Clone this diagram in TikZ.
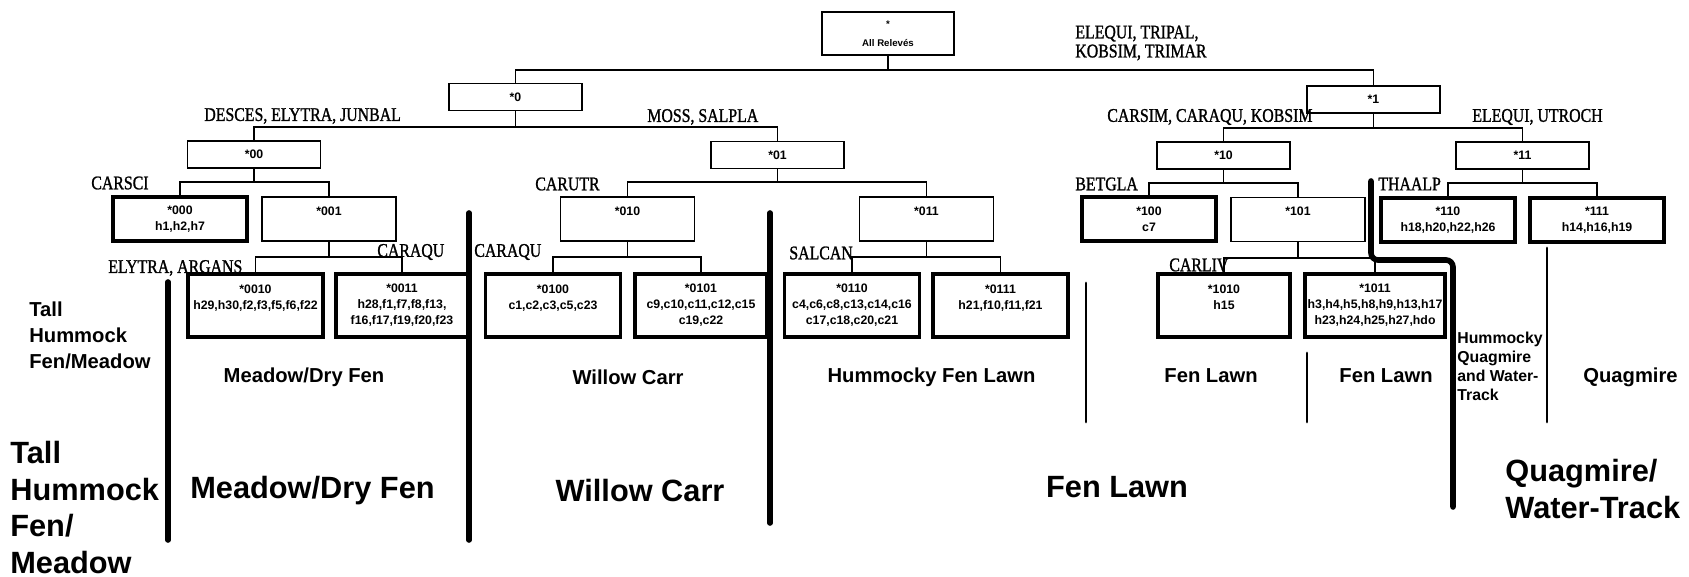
\documentclass[tikz,border=0pt]{standalone}
\usepackage{fontspec}
\setmainfont{Liberation Serif}
\setsansfont{Liberation Sans}
\newfontfamily\sppfont[FakeStretch=0.82, FakeBold=1.2]{Liberation Serif}

\begin{document}
\begin{tikzpicture}[
  x=0.02cm, y=-0.02cm,
  grp/.style={draw, line width=0.8pt, inner sep=0pt, align=center,
    font=\sffamily\bfseries\fontsize{7}{9.1}\selectfont},
  leaf/.style={grp, line width=1.8pt},
  lvtwo/.style={minimum width=2.66cm, minimum height=0.54cm},
  lvthree/.style={minimum width=2.68cm, minimum height=0.88cm},
  lvfour/.style={minimum width=2.7cm, minimum height=1.26cm},
  spp/.style={anchor=west, inner sep=0pt, font=\sppfont\fontsize{11}{10.8}\selectfont},
  zone/.style={inner sep=0pt, font=\sffamily\bfseries\fontsize{11.5}{15}\selectfont},
  bigzone/.style={inner sep=0pt, font=\sffamily\bfseries\fontsize{17.5}{20.7}\selectfont},
  conn/.style={line width=0.7pt},
  sep/.style={line width=3.2pt, line cap=round},
  thinsep/.style={line width=1.6pt, line cap=round}
]
\useasboundingbox (0,0) rectangle (1689,577);

% =======================
% Tree: division boxes
% =======================
\node[grp, minimum width=2.64cm, minimum height=0.86cm,
  font=\sffamily\bfseries\fontsize{5.5}{10.8}\selectfont] (root) at (888,33.5) {*\\All Relevés};

\node[grp, lvtwo] (n0) at (515.5,97) {*0};
\node[grp, lvtwo] (n1) at (1373.5,99.5) {*1};

\node[grp, lvtwo] (n00) at (254,154.5) {*00};
\node[grp, lvtwo] (n01) at (777.5,155) {*01};
\node[grp, lvtwo] (n10) at (1223.5,155.5) {*10};
\node[grp, lvtwo] (n11) at (1522.5,155.5) {*11};

\node[leaf, lvthree] (n000) at (180,219) {*000\\h1,h2,h7};
\node[grp, lvthree] (n001) at (329,219) {*001\\\mbox{}};
\node[grp, lvthree] (n010) at (627.5,219) {*010\\\mbox{}};
\node[grp, lvthree] (n011) at (926.5,219) {*011\\\mbox{}};
\node[leaf, lvthree] (n100) at (1149,219) {*100\\c7};
\node[grp, lvthree] (n101) at (1298,219.5) {*101\\\mbox{}};
\node[leaf, lvthree] (n110) at (1448,220) {*110\\h18,h20,h22,h26};
\node[leaf, lvthree] (n111) at (1597,220) {*111\\h14,h16,h19};

\node[leaf, lvfour] (n0010) at (255.5,305.5) {*0010\\h29,h30,f2,f3,f5,f6,f22\\\mbox{}};
\node[leaf, lvfour, minimum width=2.64cm] (n0011) at (402,305.5) {*0011\\h28,f1,f7,f8,f13,\\f16,f17,f19,f20,f23};
\node[leaf, lvfour] (n0100) at (553,305.5) {*0100\\c1,c2,c3,c5,c23\\\mbox{}};
\node[leaf, lvfour, minimum width=2.64cm] (n0101) at (701,305.5) {*0101\\c9,c10,c11,c12,c15\\c19,c22};
\node[leaf, lvfour] (n0110) at (852,305.5) {*0110\\c4,c6,c8,c13,c14,c16\\c17,c18,c20,c21};
\node[leaf, lvfour] (n0111) at (1000.5,305.5) {*0111\\h21,f10,f11,f21\\\mbox{}};
\node[leaf, lvfour, minimum width=2.64cm] (n1010) at (1224,305.5) {*1010\\h15\\\mbox{}};
\node[leaf, lvfour, minimum width=2.8cm] (n1011) at (1375,305.5) {*1011\\h3,h4,h5,h8,h9,h13,h17\\h23,h24,h25,h27,hdo};

% parent -> child, bar at given height
\foreach \p/\c/\b in {root/n0/70, root/n1/70,
    n0/n00/127, n0/n01/127, n1/n10/128, n1/n11/128,
    n00/n000/182, n00/n001/182, n01/n010/182, n01/n011/182,
    n10/n100/183, n10/n101/183, n11/n110/183, n11/n111/183,
    n001/n0010/257, n001/n0011/257, n010/n0100/257, n010/n0101/257,
    n011/n0110/257, n011/n0111/257, n101/n1010/258, n101/n1011/258}{
  \draw[conn] (\p.south) -- (\p.south |- 0,\b) -| (\c.north);
}

% =======================
% Indicator species
% =======================
\node[spp, align=left] (sRoot) at (1075,43) {ELEQUI, TRIPAL,\\KOBSIM, TRIMAR};
\node[spp] (s00) at (204,116) {DESCES, ELYTRA, JUNBAL};
\node[spp] (s01) at (647,117) {MOSS, SALPLA};
\node[spp] (s10) at (1107,117) {CARSIM, CARAQU, KOBSIM};
\node[spp] (s11) at (1472,117) {ELEQUI, UTROCH};
\node[spp] (s000) at (91,183) {CARSCI};
\node[spp] (s010) at (535,184) {CARUTR};
\node[spp] (s100) at (1075,184) {BETGLA};
\node[spp] (s110) at (1378,184) {THAALP};
\node[spp] (s0010) at (108,268) {ELYTRA, ARGANS};
\node[spp] (s0011) at (377,252) {CARAQU};
\node[spp] (s0100) at (474,252) {CARAQU};
\node[spp] (s0110) at (789,253) {SALCAN};
\node[spp] (s1010) at (1169,265) {CARLIV};

% =======================
% Community boundaries
% =======================
\draw[sep] (168,282) -- (168,540);
\draw[sep] (469,213) -- (469,540);
\draw[sep] (770,213) -- (770,523);
\draw[thinsep] (1086,283) -- (1086,422);
\draw[thinsep] (1307,353) -- (1307,422);
\draw[thinsep] (1547,248) -- (1547,422);
\draw[sep, rounded corners=4pt] (1371,181) -- (1371,260) -- (1453,260) -- (1453,507);

% fine-level communities
\node[zone, anchor=west, align=left] (zTall) at (29,335.5) {Tall\\Hummock\\Fen/Meadow};
\node[zone] (zMeadow) at (304,377) {Meadow/Dry Fen};
\node[zone] (zWillow) at (628,377) {Willow Carr};
\node[zone] (zHumFen) at (931.5,377) {Hummocky Fen Lawn};
\node[zone] (zFenA) at (1211,376) {Fen Lawn};
\node[zone] (zFenB) at (1386,376) {Fen Lawn};
\node[zone, anchor=west, align=left, font=\sffamily\bfseries\fontsize{9}{10.8}\selectfont]
  (zHumQuag) at (1457,366.5) {Hummocky\\Quagmire\\and Water-\\Track};
\node[zone] (zQuag) at (1630.5,377) {Quagmire};

% broad communities
\node[bigzone, anchor=west, align=left] (bTall) at (10,507.5) {Tall\\Hummock\\Fen/\\Meadow};
\node[bigzone] (bMeadow) at (312.5,491) {Meadow/Dry Fen};
\node[bigzone] (bWillow) at (640,491) {Willow Carr};
\node[bigzone] (bFen) at (1117,487) {Fen Lawn};
\node[bigzone, anchor=west, align=left] (bQuag) at (1505,489) {Quagmire/\\Water-Track};

\end{tikzpicture}
\end{document}
